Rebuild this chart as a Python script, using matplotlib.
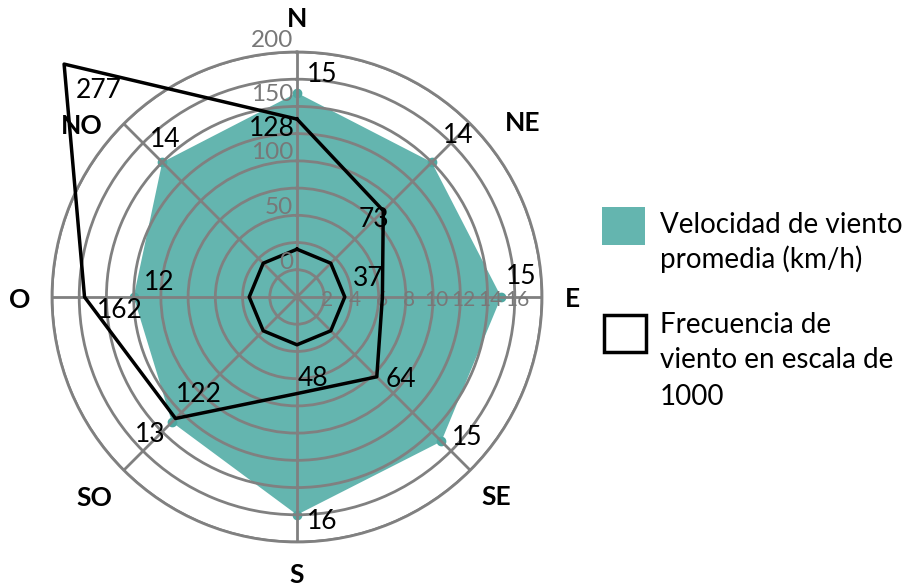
import numpy as np
import matplotlib
matplotlib.use("Agg")
import matplotlib.pyplot as plt
from matplotlib.patches import Rectangle

plt.rcParams['font.family'] = ['Lato', 'DejaVu Sans']

# Wind data by direction
directions = ['N', 'NE', 'E', 'SE', 'S', 'SO', 'O', 'NO']
speed_kmh = [15, 14, 15, 15, 16, 13, 12, 14]          # average wind speed (km/h)
frequency = [128, 73, 37, 64, 48, 122, 162, 277]      # wind frequency on a 1000 scale
speed_ticks = [2, 4, 6, 8, 10, 12, 14, 16]
freq_ticks = [0, 50, 100, 150, 200]
speed_max = 18
freq_min, freq_max = -47, 194

# label offsets (pixels) relative to the points they describe
speed_label_off = [(25, 18), (26, 27), (20, 21), (26, 4), (25, -7), (-22, -12), (26, 14), (3, 23)]
freq_label_off = [(-25, -9), (-9, -9), (-14, 18), (24, -3), (16, 15), (23, 24), (35, -14), (35, -26)]
dir_label_off = [(0, 33), (52, 1), (30, -2), (26, -27), (0, -33), (-29, -28), (-32, -3), (-42, -2)]
freq_tick_dy = [-13, -9, -5, 2, 5]

TEAL = '#64B5AF'
TEAL_DARK = '#4EA8A1'
GRID = '#808080'
TICK = '#787878'

W, H = 914, 587
fig = plt.figure(figsize=(W / 100, H / 100), dpi=100)

cx, cy, R = 297, 297, 245
rect = [(cx - R) / W, (H - cy - R) / H, 2 * R / W, 2 * R / H]

theta = np.deg2rad(np.arange(len(directions)) * 45.0)
theta_c = np.append(theta, theta[0])


def setup(ax):
    ax.set_theta_zero_location('N')
    ax.set_theta_direction(-1)
    ax.set_xticks(theta)
    ax.set_xticklabels([])


# speed axes with the grid
ax1 = fig.add_axes(rect, projection='polar')
setup(ax1)
ax1.set_ylim(0, speed_max)
ax1.set_yticks(list(range(2, speed_max + 1, 2)))
ax1.set_yticklabels([])
ax1.set_axisbelow(False)
ax1.grid(True, color=GRID, linewidth=2.0)
ax1.spines['polar'].set_color(GRID)
ax1.spines['polar'].set_linewidth(2.0)
ax1.tick_params(length=0)

speed_c = np.append(speed_kmh, speed_kmh[0])
ax1.fill(theta_c, speed_c, color=TEAL, zorder=1, linewidth=0)
ax1.plot(theta, speed_kmh, 'o', color=TEAL_DARK, markersize=6, zorder=1.5)

for t, v, (dx, dy) in zip(theta, speed_kmh, speed_label_off):
    ax1.annotate(str(v), xy=(t, v), xytext=(dx, dy), textcoords='offset pixels',
                 ha='center', va='center', fontsize=19, color='black', zorder=5)

for v in speed_ticks:
    ax1.annotate(str(v), xy=(np.pi / 2, v), xytext=(3, -3), textcoords='offset pixels',
                 ha='center', va='center', fontsize=15, color=TICK, zorder=4)

for t, name, (dx, dy) in zip(theta, directions, dir_label_off):
    ax1.annotate(name, xy=(t, speed_max), xytext=(dx, dy), textcoords='offset pixels',
                 ha='center', va='center', fontsize=19, fontweight='bold',
                 color='black', annotation_clip=False)

# frequency axes overlaid on the same area
ax2 = fig.add_axes(rect, projection='polar', frameon=False)
setup(ax2)
ax2.set_ylim(freq_min, freq_max)
ax2.set_yticks([])
ax2.grid(False)
ax2.patch.set_alpha(0)
ax2.tick_params(length=0)

freq_c = np.append(frequency, frequency[0])
ax2.plot(theta_c, freq_c, color='black', linewidth=2.5, zorder=3, clip_on=False)
baseline = np.zeros(len(theta_c))
ax2.plot(theta_c, baseline, color='black', linewidth=2.5, zorder=3)

for t, v, (dx, dy) in zip(theta, frequency, freq_label_off):
    ax2.annotate(str(v), xy=(t, v), xytext=(dx, dy), textcoords='offset pixels',
                 ha='center', va='center', fontsize=19, color='black',
                 annotation_clip=False, zorder=5)

for v, dy in zip(freq_ticks, freq_tick_dy):
    ax2.annotate(str(v), xy=(0, v), xytext=(-4, dy), textcoords='offset pixels',
                 ha='right', va='center', fontsize=17.5, color=TICK, zorder=4,
                 annotation_clip=False)

# legend
def px_rect(x0, y0, x1, y1, **kw):
    fig.add_artist(Rectangle((x0 / W, 1 - y1 / H), (x1 - x0) / W, (y1 - y0) / H,
                             transform=fig.transFigure, **kw))

px_rect(602, 207, 645, 245, facecolor=TEAL, edgecolor='none')
px_rect(604, 315, 646, 352, facecolor='white', edgecolor='black', linewidth=2.5)

legend_lines = [("Velocidad de viento", 233), ("promedia (km/h)", 268),
                ("Frecuencia de", 333), ("viento en escala de", 368), ("1000", 405)]
for txt, yb in legend_lines:
    fig.text(660 / W, 1 - yb / H, txt, ha='left', va='baseline', fontsize=20, color='black')

fig.savefig('out.png', dpi=100)
